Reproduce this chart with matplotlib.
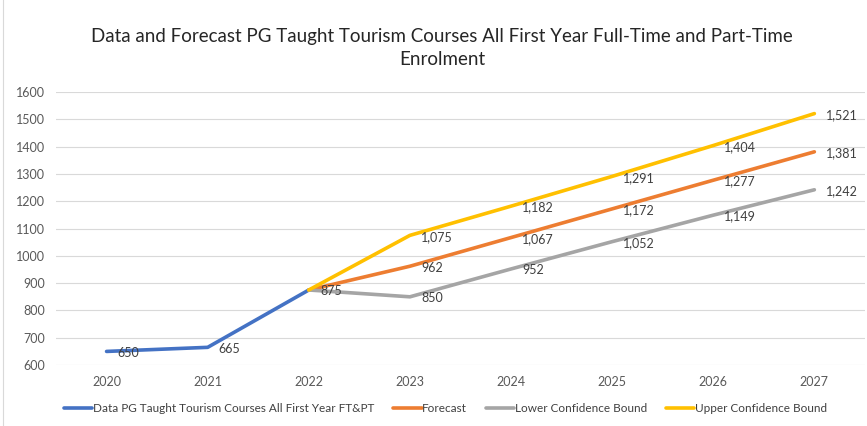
import numpy as np
import matplotlib.pyplot as plt

plt.rcParams['font.family'] = ['Lato', 'DejaVu Sans']

years = ["2020", "2021", "2022", "2023", "2024", "2025", "2026", "2027"]
actual = [650, 665, 875, None, None, None, None, None]
forecast = [None, None, 875, 962, 1067, 1172, 1277, 1381]
lower = [None, None, 875, 850, 952, 1052, 1149, 1242]
upper = [None, None, 875, 1075, 1182, 1291, 1404, 1521]

series = [
    ("Data PG Taught Tourism Courses All First Year FT&PT", actual, "#4472C4"),
    ("Forecast", forecast, "#ED7D31"),
    ("Lower Confidence Bound", lower, "#A5A5A5"),
    ("Upper Confidence Bound", upper, "#FFC000"),
]

fig = plt.figure(figsize=(8.67, 4.26), dpi=100)
ax = fig.add_axes([0.0646, 0.143, 0.933, 0.641])

x = np.arange(len(years))
labelled = set()
for name, vals, col in series:
    v = np.array([np.nan if a is None else a for a in vals], dtype=float)
    ax.plot(x, v, color=col, lw=2.6, label=name, solid_capstyle="round", zorder=3)
    for xi, yi in zip(x, v):
        if np.isnan(yi) or (xi, yi) in labelled:
            continue
        labelled.add((xi, yi))
        ax.annotate(f"{int(yi):,}", (xi, yi), xytext=(8, -1), textcoords="offset points",
                    ha="left", va="center", fontsize=9, color="#404040", zorder=4)

ax.set_xlim(-0.5, len(years) - 0.5)
ax.set_ylim(600, 1600)
ax.set_yticks(range(600, 1601, 100))
ax.set_xticks(x)
ax.set_xticklabels(years)
ax.grid(axis="y", color="#D9D9D9", lw=0.8)
ax.set_axisbelow(True)
for s in ax.spines.values():
    s.set_visible(False)
ax.tick_params(length=0, labelsize=9, colors="#595959", pad=8)

fig.suptitle("Data and Forecast PG Taught Tourism Courses All First Year Full-Time and Part-Time\nEnrolment",
             x=0.51, y=0.935, fontsize=13.5, color="#262626", linespacing=1.45)

fig.legend(loc="center", bbox_to_anchor=(0.514, 0.04), ncol=4, frameon=False, fontsize=8.5,
           handlelength=2.4, handletextpad=0.05, columnspacing=1.6, labelcolor="#404040")

fig.add_artist(plt.Line2D([0.003, 0.003], [0.0, 1.0], color="#D9D9D9", lw=0.8))

fig.savefig("out.png", dpi=100)
